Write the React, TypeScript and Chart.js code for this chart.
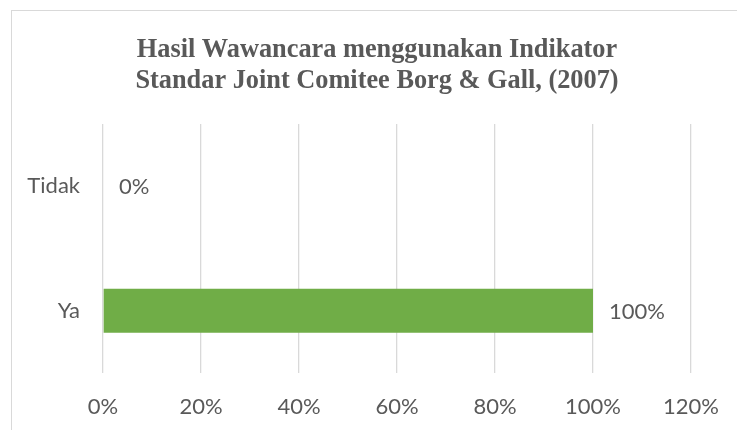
import React, { useEffect, useRef } from "react";
import { Chart, registerables } from "chart.js";

Chart.register(...registerables);

const categories = ["Tidak", "Ya"];
const values = [0, 100];
const valueLabels = ["0%", "100%"];
const xTickLabels = ["0%", "20%", "40%", "60%", "80%", "100%", "120%"];
const titleLines = [
  "Hasil Wawancara menggunakan Indikator",
  "Standar Joint Comitee Borg & Gall, (2007)",
];

const TEXT = "#595959";
const GRID = "#d9d9d9";
const BAR = "#70AD47";
const SANS = "Lato, 'Open Sans', sans-serif";

const titlePlugin = {
  id: "customTitle",
  afterDraw(chart: any) {
    const ctx = chart.ctx;
    ctx.save();
    ctx.fillStyle = TEXT;
    ctx.font = "bold 28px 'Liberation Serif', 'Times New Roman', serif";
    ctx.textAlign = "center";
    ctx.textBaseline = "alphabetic";
    const cx = 377;
    const baselines = [56.7, 88.3];
    titleLines.forEach((line, i) => {
      ctx.save();
      ctx.translate(cx, baselines[i]);
      ctx.scale(0.94, 1);
      ctx.fillText(line, 0, 0);
      ctx.restore();
    });
    ctx.restore();
  },
};

const dataLabelPlugin = {
  id: "dataLabels",
  afterDatasetsDraw(chart: any) {
    const ctx = chart.ctx;
    const meta = chart.getDatasetMeta(0);
    ctx.save();
    ctx.fillStyle = TEXT;
    ctx.font = `22px ${SANS}`;
    ctx.textAlign = "left";
    ctx.textBaseline = "middle";
    meta.data.forEach((bar: any, i: number) => {
      ctx.fillText(valueLabels[i], bar.x + 16, bar.y + 1);
    });
    ctx.restore();
  },
};

export default function App() {
  const ref = useRef<HTMLCanvasElement | null>(null);

  useEffect(() => {
    if (!ref.current) return;
    const chart = new Chart(ref.current, {
      type: "bar",
      data: {
        labels: categories,
        datasets: [
          {
            data: values,
            backgroundColor: BAR,
            borderWidth: 0,
            categoryPercentage: 1,
            barPercentage: 0.353,
          },
        ],
      },
      options: {
        indexAxis: "y",
        animation: false,
        responsive: false,
        maintainAspectRatio: false,
        layout: { padding: { top: 124, right: 46, left: 0, bottom: 0 } },
        plugins: {
          legend: { display: false },
          title: { display: false },
          tooltip: { enabled: false },
        },
        scales: {
          x: {
            min: 0,
            max: 120,
            ticks: {
              stepSize: 20,
              color: TEXT,
              font: { family: SANS, size: 22 },
              padding: 21,
              maxRotation: 0,
              callback: (_v: any, i: number) => xTickLabels[i],
            },
            grid: { color: GRID, lineWidth: 1.3, drawTicks: false },
            border: { display: false },
            afterFit: (s: any) => {
              s.height = 57;
              s.paddingLeft = 0;
              s.paddingRight = 0;
            },
          },
          y: {
            ticks: {
              color: TEXT,
              font: { family: SANS, size: 22 },
              padding: 23,
            },
            grid: { display: false, drawTicks: false },
            border: { display: false },
            afterFit: (s: any) => {
              s.width = 103;
              s.paddingTop = 0;
              s.paddingBottom = 0;
            },
          },
        },
      },
      plugins: [titlePlugin, dataLabelPlugin],
    });
    return () => chart.destroy();
  }, []);

  return (
    <div style={{ position: "fixed", left: 0, top: 0, width: 737, height: 430, background: "#fff" }}>
      <div
        style={{
          position: "absolute",
          left: 11,
          top: 10,
          width: 800,
          height: 500,
          border: `1px solid ${GRID}`,
          boxSizing: "border-box",
        }}
      />
      <canvas ref={ref} width={737} height={430} style={{ position: "absolute", left: 0, top: 0 }} />
    </div>
  );
}
